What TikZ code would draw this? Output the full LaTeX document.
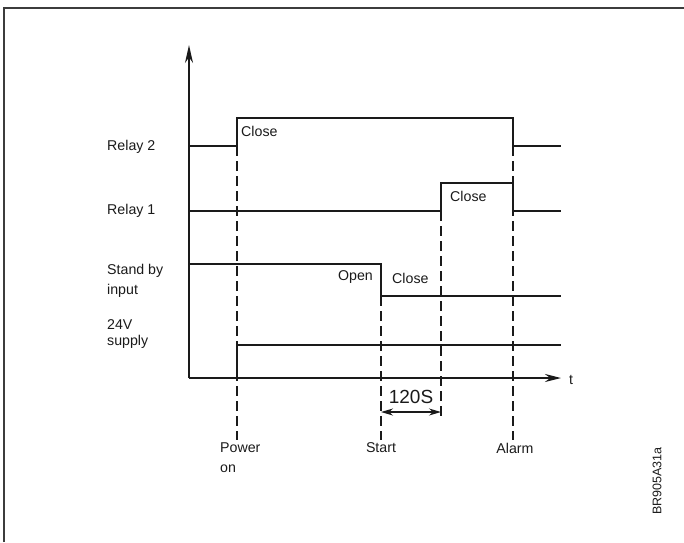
\documentclass[tikz,border=0pt]{standalone}
\usepackage{fontspec}
\setmainfont{Liberation Sans}
\usetikzlibrary{arrows.meta}
\definecolor{ink}{HTML}{1A1A1A}
\tikzset{
  sig/.style={draw=ink, line width=2.2pt},
  axis/.style={draw=ink, line width=2.2pt},
  guide/.style={draw=ink, line width=1.3pt, dash pattern=on 10pt off 5pt},
  lbl/.style={inner sep=0pt, text=ink, font=\fontsize{14.2}{20}\selectfont},
}
\begin{document}
\begin{tikzpicture}[x=1pt,y=-1pt]
\useasboundingbox (0,0) rectangle (684,542);
% frame
\draw[draw=ink!85, line width=1.8pt] (4,542) -- (4,8) -- (684,8);
% axes
\coordinate (o) at (189,378);
\coordinate (ytip) at (189,45);
\coordinate (xtip) at (561,378);
\draw[axis, -{Stealth[length=18pt,width=8pt]}] (o) -- (ytip);
\draw[axis, -{Stealth[length=16pt,width=8pt]}] (o) -- (xtip);
\node[lbl, anchor=west] (t) at (569,380) {t};
% signals
\draw[sig] (189,146) -- (237,146) -- (237,118) -- (513,118) -- (513,146) -- (561,146);
\draw[sig] (189,211) -- (441,211) -- (441,183) -- (513,183) -- (513,211) -- (561,211);
\draw[sig] (189,264) -- (381,264) -- (381,296) -- (561,296);
\draw[sig] (237,378) -- (237,345) -- (561,345);
% guides
\coordinate (g1a) at (237,146); \coordinate (g1b) at (237,440);
\coordinate (g2a) at (381,296); \coordinate (g2b) at (381,440);
\coordinate (g3a) at (441,211); \coordinate (g3b) at (441,418);
\coordinate (g4a) at (513,146); \coordinate (g4b) at (513,440);
\draw[guide] (g1a) -- (g1b);
\draw[guide] (g2a) -- (g2b);
\draw[guide] (g3a) -- (g3b);
\draw[guide] (g4a) -- (g4b);
% 120S
\coordinate (d1) at (381,412); \coordinate (d2) at (441,412);
\draw[draw=ink, line width=1.3pt, {Stealth[length=12pt,width=7pt]}-{Stealth[length=12pt,width=7pt]}] (d1) -- (d2);
\node[lbl, font=\fontsize{19}{21}\selectfont] (s120) at (411,397) {120S};
% left labels
\node[lbl, anchor=west] (r2) at (107,147) {Relay 2};
\node[lbl, anchor=west] (r1) at (107,211) {Relay 1};
\node[lbl, anchor=west, align=left] (sb) at (107,281) {Stand by\\input};
\node[lbl, anchor=west, align=left, font=\fontsize{14.2}{16.5}\selectfont] (sp) at (107,334) {24V\\supply};
% signal labels
\node[lbl, anchor=west] (c1) at (241,131) {Close};
\node[lbl, anchor=west] (c2) at (450,196) {Close};
\node[lbl, anchor=east] (op) at (373,277) {Open};
\node[lbl, anchor=west] (c3) at (392,278) {Close};
% bottom labels
\node[lbl, anchor=west, align=left] (pw) at (220,458) {Power\\on};
\node[lbl] (st) at (381,448) {Start};
\node[lbl] (al) at (515,448) {Alarm};
% code
\node[lbl, rotate=90, font=\fontsize{12.5}{14}\selectfont] (code) at (657,481) {BR905A31a};
\end{tikzpicture}
\end{document}
